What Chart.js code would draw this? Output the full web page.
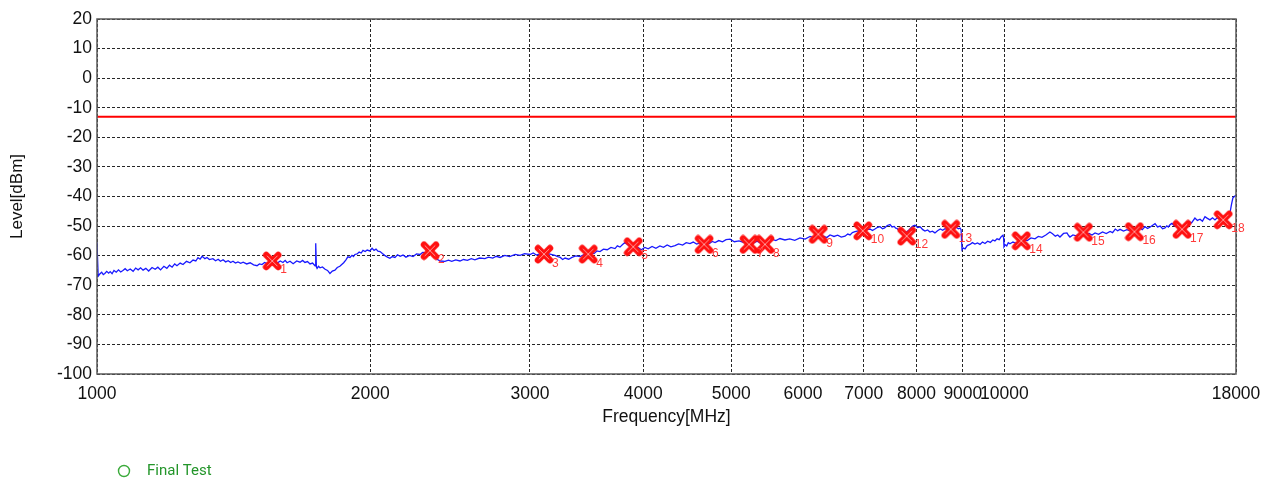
<!DOCTYPE html>
<html>
<head>
<meta charset="utf-8">
<script src="https://cdn.jsdelivr.net/npm/chart.js@4/dist/chart.umd.min.js"></script>
<style>
  html,body{margin:0;padding:0;background:#fff;}
  #wrap{position:relative;width:1263px;height:478px;}
</style>
</head>
<body>
<div id="wrap"><canvas id="c" width="1263" height="478"></canvas></div>
<script>
// ---------- data ----------
const xTickValues = [1000, 2000, 3000, 4000, 5000, 6000, 7000, 8000, 9000, 10000, 18000];
const yMin = -100, yMax = 20, yStep = 10;
const limitLevel = -13;

const traceFreq = [
1000,1003,1007,1012,1016,1020,1025,1030,1034,1039,1044,1050,1056,1062,1068,1074,1080,1088,1096,1103,
1110,1117,1124,1132,1140,1150,1159,1167,1175,1185,1194,1202,1210,1218,1225,1235,1244,1255,1266,1276,
1285,1292,1299,1306,1315,1322,1330,1342,1351,1360,1368,1377,1386,1395,1404,1412,1421,1430,1440,1449,
1462,1475,1488,1501,1510,1520,1530,1539,1549,1559,1570,1580,1592,1603,1612,1620,1632,1645,1660,1674,
1685,1695,1706,1717,1728,1739,1741,1743,1745,1748,1754,1761,1772,1784,1795,1806,1817,1829,1840,1852,
1861,1870,1880,1890,1900,1910,1917,1924,1935,1945,1955,1964,1975,1985,1998,2010,2020,2030,2040,2051,
2063,2075,2090,2103,2116,2130,2144,2158,2174,2190,2210,2230,2250,2270,2285,2300,2315,2328,2340,2350,
2360,2370,2390,2418,2440,2460,2485,2512,2535,2560,2585,2609,2640,2676,2700,2730,2755,2781,2815,2850,
2890,2926,2960,3001,3025,3050,3080,3109,3150,3197,3220,3240,3260,3280,3310,3338,3370,3407,3445,3486,
3510,3530,3555,3584,3615,3650,3685,3723,3745,3770,3795,3818,3850,3896,3920,3950,3980,4016,4050,4090,
4130,4172,4210,4250,4290,4335,4375,4420,4460,4503,4540,4580,4620,4667,4700,4730,4765,4799,4845,4890,
4935,4985,5040,5100,5165,5231,5290,5340,5390,5447,5500,5550,5600,5658,5730,5800,5875,5953,6030,6107,
6170,6232,6280,6320,6370,6425,6490,6550,6610,6674,6720,6760,6800,6846,6900,6969,7040,7111,7155,7200,
7250,7294,7340,7380,7430,7481,7520,7560,7590,7615,7660,7700,7755,7810,7855,7900,7935,7970,8025,8080,
8130,8175,8230,8280,8330,8385,8440,8500,8550,8601,8670,8735,8790,8850,8900,8936,8960,8981,9010,9050,
9100,9165,9220,9280,9340,9400,9460,9520,9585,9650,9710,9763,9815,9870,9920,9965,9980,9990,10020,10060,
10100,10143,10220,10300,10365,10431,10520,10600,10700,10807,10900,11000,11110,11225,11300,11380,11450,11515,11620,11721,
11770,11810,11900,12000,12100,12207,12300,12400,12490,12587,12700,12830,12950,13076,13160,13250,13330,13412,13530,13650,
13770,13898,14000,14100,14190,14289,14380,14480,14570,14657,14750,14850,14940,15031,15100,15160,15230,15300,15400,15500,
15600,15693,15820,15950,16080,16218,16320,16430,16530,16637,16740,16850,16960,17065,17160,17250,17330,17415,17510,17600,
17660,17727,17800,17862,17953,18000];
const traceLevel = [
-55.5,-66.9,-66.2,-65.6,-66.4,-66.0,-65.3,-65.9,-65.4,-66.1,-65.0,-65.6,-64.8,-65.5,-65.0,-64.4,-65.1,-64.5,-65.3,-64.2,
-64.8,-64.1,-64.9,-64.3,-65.2,-64.0,-64.6,-63.9,-64.8,-63.6,-64.3,-63.2,-63.9,-62.8,-63.4,-62.5,-63.0,-61.9,-62.4,-61.5,
-61.8,-60.7,-61.2,-60.2,-61.0,-60.6,-61.3,-61.0,-61.7,-61.2,-61.9,-61.4,-62.1,-61.7,-62.3,-61.9,-62.5,-62.1,-62.6,-62.2,
-62.8,-62.4,-63.1,-63.4,-62.8,-63.0,-62.3,-62.7,-62.0,-62.2,-61.6,-62.5,-61.8,-62.3,-61.6,-62.4,-61.9,-62.7,-61.8,-62.2,
-61.6,-62.3,-62.0,-62.8,-62.5,-63.4,-63.0,-55.8,-63.8,-64.3,-63.6,-64.1,-63.8,-64.6,-65.0,-66.0,-65.2,-64.9,-64.0,-63.6,
-63.0,-62.4,-61.5,-60.4,-60.6,-59.9,-60.3,-59.6,-59.4,-58.8,-59.1,-58.2,-58.6,-58.1,-58.4,-57.5,-58.2,-57.8,-58.5,-58.6,
-59.3,-59.9,-60.5,-60.9,-60.3,-60.6,-59.7,-60.2,-59.8,-60.5,-59.9,-60.3,-59.4,-59.6,-58.9,-59.0,-58.5,-58.3,-59.1,-59.6,
-60.4,-61.2,-61.8,-61.9,-61.5,-61.9,-61.4,-61.8,-61.3,-61.6,-61.0,-61.4,-60.8,-61.0,-60.5,-60.8,-60.2,-60.6,-59.9,-60.3,
-59.6,-59.9,-59.3,-59.6,-59.1,-59.8,-59.3,-59.6,-59.4,-59.9,-60.3,-60.6,-61.3,-60.8,-61.2,-60.6,-60.1,-60.3,-59.6,-59.8,
-59.0,-59.3,-58.4,-58.6,-57.8,-58.0,-57.2,-57.6,-56.7,-57.1,-56.2,-55.6,-56.4,-57.0,-57.6,-57.3,-58.0,-57.2,-57.7,-56.9,
-57.5,-56.7,-57.2,-56.4,-57.0,-56.6,-56.0,-56.4,-55.6,-55.9,-55.4,-56.1,-55.7,-56.2,-55.5,-55.9,-55.2,-55.6,-54.9,-55.3,
-54.6,-54.4,-55.3,-55.0,-55.6,-55.2,-55.7,-55.1,-55.8,-55.4,-54.9,-54.5,-54.9,-54.2,-54.7,-54.3,-54.8,-54.0,-54.4,-53.5,
-53.9,-53.1,-53.8,-53.4,-53.9,-53.0,-53.5,-53.1,-53.7,-53.4,-52.7,-53.0,-52.2,-51.9,-51.6,-51.8,-51.2,-51.0,-51.5,-51.0,
-50.4,-50.2,-50.9,-50.6,-49.8,-49.5,-50.3,-50.1,-50.7,-50.8,-51.6,-51.3,-52.1,-51.9,-51.2,-50.4,-49.9,-49.7,-50.5,-50.3,
-51.2,-51.7,-51.3,-52.0,-51.7,-52.3,-51.6,-51.0,-51.4,-50.9,-51.3,-50.6,-50.9,-50.4,-50.9,-50.7,-51.2,-58.0,-57.4,-57.7,
-56.6,-56.2,-55.6,-56.1,-55.7,-56.2,-55.4,-55.9,-55.1,-55.5,-54.7,-55.0,-54.3,-54.6,-53.6,-53.1,-54.0,-57.0,-56.3,-56.7,
-55.6,-56.0,-55.4,-55.8,-55.2,-55.5,-54.7,-54.9,-54.0,-54.3,-53.5,-53.8,-53.0,-52.0,-52.6,-53.4,-53.0,-53.7,-52.5,-52.3,
-53.2,-53.7,-53.0,-53.3,-52.6,-52.3,-52.9,-52.5,-53.0,-52.3,-52.8,-52.0,-52.5,-51.8,-52.2,-51.0,-51.6,-51.1,-51.7,-51.2,
-51.7,-51.4,-51.0,-50.6,-51.2,-50.2,-50.8,-50.3,-49.7,-49.2,-50.3,-50.0,-50.9,-50.6,-49.9,-50.3,-49.5,-49.1,-49.9,-50.1,
-49.6,-50.4,-49.4,-48.4,-48.9,-47.3,-48.1,-47.7,-48.4,-46.8,-47.4,-47.9,-47.2,-47.9,-47.2,-47.6,-47.1,-47.5,-46.9,-47.3,
-46.5,-45.5,-42.5,-40.4,-39.8,-39.6];

const markerFreq  = [1560, 2328, 3109, 3478, 3899, 4667, 5231, 5447, 6236, 6982, 7805, 8727, 10438, 12218, 13909, 15696, 17426];
const markerLevel = [-61.8, -58.3, -59.5, -59.5, -57.0, -56.2, -56.2, -56.2, -52.8, -51.6, -53.4, -51.1, -55.0, -52.1, -51.9, -51.1, -47.9];
const markerLabels = ['1','2','3','4','5','6','7','8','9','10','12','13','14','15','16','17','18'];

const legendLabel = 'Final Test';
const xTitle = 'Frequency[MHz]';
const yTitle = 'Level[dBm]';

// ---------- marker glyph ----------
function makeMarker(){
  const c = document.createElement('canvas');
  c.width = 20; c.height = 20;
  const g = c.getContext('2d');
  g.lineCap = 'round';
  g.strokeStyle = '#ff1010'; g.lineWidth = 6.5;
  g.beginPath(); g.moveTo(4,4); g.lineTo(16,16); g.moveTo(16,4); g.lineTo(4,16); g.stroke();
  g.strokeStyle = 'rgba(255,170,170,0.9)'; g.lineWidth = 1;
  g.beginPath(); g.moveTo(5,5); g.lineTo(15,15); g.moveTo(15,5); g.lineTo(5,15); g.stroke();
  return c;
}
const markerImg = makeMarker();

// ---------- plugins ----------
const frame = {
  id: 'frame',
  afterDatasetsDraw(chart){
    const {ctx, chartArea:a} = chart;
    ctx.save();
    ctx.strokeStyle = '#5a5a5a';
    ctx.lineWidth = 1.5;
    ctx.strokeRect(a.left, a.top, a.right - a.left, a.bottom - a.top);
    ctx.restore();
  }
};
const markerText = {
  id: 'markerText',
  afterDatasetsDraw(chart){
    const meta = chart.getDatasetMeta(2);
    const ctx = chart.ctx;
    ctx.save();
    ctx.fillStyle = '#ff3a3a';
    ctx.font = '12px "Liberation Sans", Arial, sans-serif';
    ctx.textAlign = 'left';
    ctx.textBaseline = 'middle';
    meta.data.forEach((pt, i) => {
      ctx.fillText(markerLabels[i], pt.x + 8, pt.y + 9);
    });
    ctx.restore();
  }
};
const customLegend = {
  id: 'customLegend',
  afterDraw(chart){
    const ctx = chart.ctx;
    ctx.save();
    ctx.strokeStyle = '#3aaa3a';
    ctx.lineWidth = 1.4;
    ctx.beginPath(); ctx.arc(124, 471, 5.5, 0, Math.PI*2); ctx.stroke();
    ctx.fillStyle = '#23952a';
    ctx.font = '15px Roboto, "Liberation Sans", sans-serif';
    ctx.textAlign = 'left';
    ctx.textBaseline = 'middle';
    ctx.fillText(legendLabel, 147, 471);
    ctx.restore();
  }
};

// ---------- chart ----------
const tickFont = {family: '"Liberation Sans", Arial, sans-serif', size: 17.5};
const gridOpts = {color: 'rgba(0,0,0,0.85)', lineWidth: 1, drawTicks: false};

new Chart(document.getElementById('c'), {
  type: 'line',
  data: {
    datasets: [
      {
        label: 'Trace',
        data: traceFreq.map((f, i) => ({x: f, y: traceLevel[i]})),
        borderColor: 'rgb(25,25,255)',
        borderWidth: 1.3,
        pointRadius: 0,
        tension: 0,
        order: 3
      },
      {
        label: 'Limit',
        data: [{x: xTickValues[0], y: limitLevel}, {x: xTickValues[xTickValues.length-1], y: limitLevel}],
        borderColor: 'rgb(255,0,0)',
        borderWidth: 2,
        pointRadius: 0,
        order: 2
      },
      {
        label: legendLabel,
        data: markerFreq.map((f, i) => ({x: f, y: markerLevel[i]})),
        showLine: false,
        pointStyle: markerImg,
        pointRadius: 10,
        order: 1
      }
    ]
  },
  options: {
    responsive: false,
    animation: false,
    devicePixelRatio: 1,
    layout: {padding: {top: 19, right: 27, left: 0, bottom: 0}},
    plugins: {legend: {display: false}, tooltip: {enabled: false}},
    scales: {
      x: {
        type: 'logarithmic',
        min: 1000, max: 18000,
        afterBuildTicks(scale){ scale.ticks = xTickValues.map(v => ({value: v})); },
        afterFit(scale){ scale.height = 104; scale.paddingRight = 0; scale.paddingLeft = 0; },
        ticks: {
          autoSkip: false, maxRotation: 0, minRotation: 0, padding: 10,
          color: '#111', font: tickFont,
          callback: (v) => String(v)
        },
        grid: Object.assign({}, gridOpts),
        border: {display: false, dash: [3,2]},
        title: {display: true, text: xTitle, color: '#111',
                font: {family: '"Liberation Sans", Arial, sans-serif', size: 17.5},
                padding: {top: 0, bottom: 50}}
      },
      y: {
        min: yMin, max: yMax,
        afterFit(scale){ scale.width = 97; },
        ticks: {stepSize: yStep, padding: 5, color: '#111', font: tickFont},
        grid: Object.assign({}, gridOpts),
        border: {display: false, dash: [3,2]},
        title: {display: true, text: yTitle, color: '#111',
                font: {family: '"Liberation Sans", Arial, sans-serif', size: 17},
                padding: {top: 7, bottom: 0}}
      }
    }
  },
  plugins: [frame, markerText, customLegend]
});
</script>
</body>
</html>
